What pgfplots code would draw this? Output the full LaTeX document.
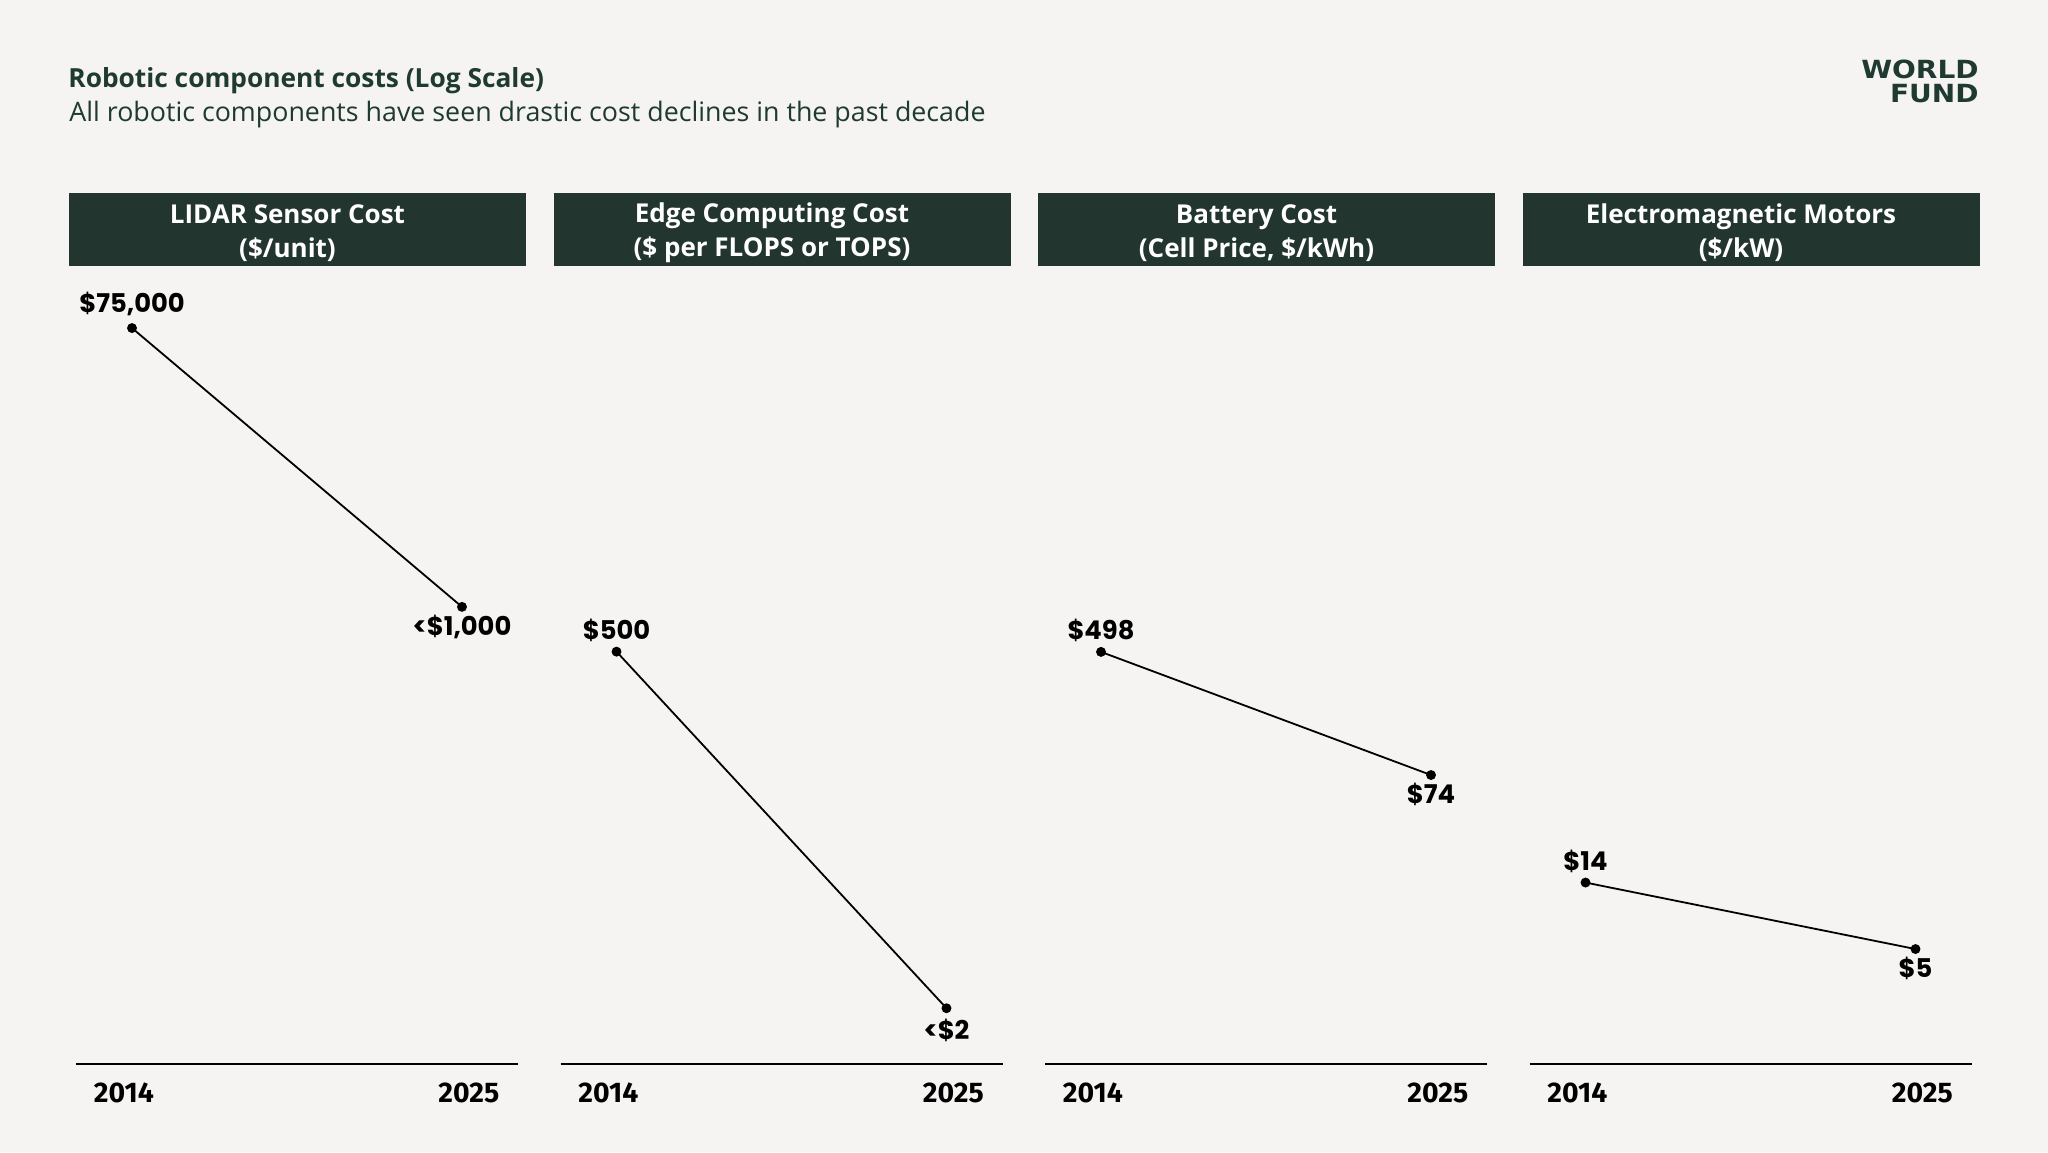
\documentclass[border=0pt]{standalone}
\usepackage{pgfplots}
\pgfplotsset{compat=1.18}
\usepackage{fontspec}
\setmainfont{Open Sans}
\newfontfamily\yearfont{Fira Sans}
\newfontfamily\labfont{Poppins}
\newfontfamily\logofont[FakeStretch=1.12]{DejaVu Sans}
\definecolor{bg}{HTML}{F5F4F2}
\definecolor{hdr}{HTML}{22352F}
\definecolor{ttl}{HTML}{1F3A31}

\pgfplotsset{
  panel/.style={
    scale only axis, width=221pt, height=399pt,
    anchor=south west, clip=false,
    xmin=2012.133, xmax=2026.867,
    axis x line*=bottom, axis y line=none,
    x axis line style={line width=1pt, black},
    xtick={2013.73,2025.23}, xticklabels={2014,2025},
    major tick length=0pt,
    xticklabel style={font=\yearfont\fontsize{14.2}{16}\selectfont\bfseries, inner sep=0pt, anchor=north, yshift=-9pt},
    ytick=\empty,
    point meta=explicit symbolic,
    nodes near coords,
    visualization depends on={value \thisrow{dy}\as\dy},
    every node near coord/.append style={anchor=base, inner sep=0pt, yshift=\dy pt,
      font=\labfont\fontsize{12.9}{16}\selectfont\bfseries, text=black},
  },
  cost/.style={black, line width=0.9pt, mark=*, mark size=2pt, mark options={fill=black}},
}

\begin{document}
\begin{tikzpicture}[x=0.5pt, y=0.5pt]
\fill[bg] (0,0) rectangle (2048,-1152);
\useasboundingbox (0,0) rectangle (2048,-1152);

% titles
\node[anchor=base west, inner sep=0pt, text=ttl, font=\fontsize{13.15}{15}\selectfont\bfseries] at (68,-87) {Robotic component costs (Log Scale)};
\node[anchor=base west, inner sep=0pt, text=ttl, font=\fontsize{13.4}{15}\selectfont] at (69,-121) {All robotic components have seen drastic cost declines in the past decade};

% logo
\node[anchor=base east, inner sep=0pt, text=ttl, font=\logofont\fontsize{12.5}{14}\selectfont\bfseries] at (1979,-78) {WORLD};
\node[anchor=base east, inner sep=0pt, text=ttl, font=\logofont\fontsize{12.5}{14}\selectfont\bfseries] at (1979,-102) {FUND};

% panel headers
\foreach \i/\txt in {0/{LIDAR Sensor Cost\\(\$/unit)},
                     1/{Edge Computing Cost\\(\$ per FLOPS or TOPS)},
                     2/{Battery Cost\\(Cell Price, \$/kWh)},
                     3/{Electromagnetic Motors\\(\$/kW)}} {
  \fill[hdr] (69+484.5*\i,-193) rectangle ++(457,-73);
  \node[align=center, text=white, inner sep=0pt, font=\fontsize{13.0}{17}\selectfont\bfseries]
    at (287.5+484.5*\i,-233) {\txt};
}

\begin{axis}[ymode=log, ymin=0.843, ymax=196000, panel, at={(38pt,-532pt)}]
\addplot[cost] table[meta=lab] {
x y lab dy
2014 75000 \$75,000 8
2025 1000 <\$1,000 -14.5
};
\end{axis}

\begin{axis}[ymode=log, ymin=0.843, ymax=196000, panel, at={(280.25pt,-532pt)}]
\addplot[cost] table[meta=lab] {
x y lab dy
2014 500 \$500 6
2025 2 <\$2 -15.5
};
\end{axis}

\begin{axis}[ymode=log, ymin=0.843, ymax=196000, panel, at={(522.5pt,-532pt)}]
\addplot[cost] table[meta=lab] {
x y lab dy
2014 498 \$498 6
2025 74 \$74 -14
};
\end{axis}

\begin{axis}[ymode=log, ymin=0.843, ymax=196000, panel, at={(764.75pt,-532pt)}]
\addplot[cost] table[meta=lab] {
x y lab dy
2014 14 \$14 6
2025 5 \$5 -14
};
\end{axis}
\end{tikzpicture}
\end{document}
